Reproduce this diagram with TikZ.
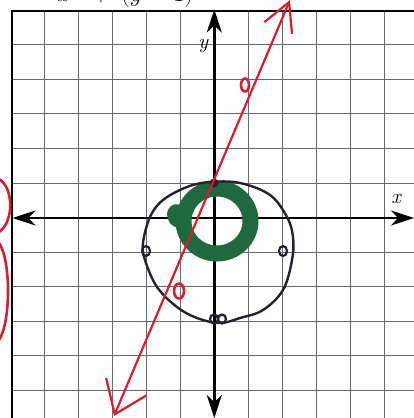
\documentclass[tikz,border=0pt]{standalone}
\usetikzlibrary{arrows.meta}
\definecolor{gridc}{HTML}{6A6A6E}
\definecolor{penred}{HTML}{D81E2C}
\definecolor{pengreen}{HTML}{1E6A3E}
\definecolor{penblack}{HTML}{23222E}
\tikzset{
  gridline/.style={gridc, line width=0.9pt},
  border/.style={black, line width=1.4pt},
  axis/.style={black, line width=2.6pt, -{Stealth[length=23pt,width=15pt,inset=7pt]}},
  redpen/.style={penred, line width=2.2pt, line cap=round, line join=round},
  blackpen/.style={penblack, line width=2.4pt, line cap=round, line join=round},
  greenpen/.style={pengreen, line width=16pt},
  axlabel/.style={font=\itshape\fontsize{21}{21}\selectfont, inner sep=0pt}
}
\begin{document}
\begin{tikzpicture}[x=1pt,y=-1pt]
\useasboundingbox (0,0) rectangle (414,418);
\clip (0,0) rectangle (414,418);
% cropped equation at top
\node[anchor=base west, inner sep=0pt, font=\fontsize{30}{30}\selectfont] (eq) at (57,1.5) {$x^2 \mkern4mu+\mkern4mu (y-1)^2$};
% grid
\foreach \gx in {44.5,78.2,112.1,146,180,248.2,282.3,316.4,350.6,384.8}
  \draw[gridline] (\gx,11) -- (\gx,418);
\foreach \gy in {44.5,79,113.5,148,183,252.3,286.8,321.3,355.8,390.3}
  \draw[gridline] (12,\gy) -- (414,\gy);
\draw[border] (12,418) -- (12,11) -- (414,11);
% axes
\coordinate (o) at (214.3,218);
\coordinate (xl) at (12.5,218);
\coordinate (xr) at (414,218);
\coordinate (yt) at (214.3,9.5);
\coordinate (yb) at (214.3,418);
\draw[axis] (o) -- (xl);
\draw[axis] (o) -- (xr);
\draw[axis] (o) -- (yt);
\draw[axis] (o) -- (yb);
\node[axlabel] (ylab) at (203,46) {y};
\node[axlabel] (xlab) at (396,199) {x};
% green ring
\draw[greenpen] (217,221) ellipse (33.5 and 32.5);
\fill[pengreen] (167,214) .. controls (169,199) and (186,203) .. (187,214) .. controls (187,230) and (169,233) .. (167,214);
% black circle
\draw[blackpen] plot[smooth cycle, tension=0.6] coordinates {
 (210,182) (240,183) (270,195) (287,217) (293,237) (292,260) (283,290)
 (263,310) (240,318) (220,323) (197,318) (177,307) (157,287) (145,260)
 (143,243) (150,217) (163,200) (187,187)};
% black point marks
\draw[penblack, line width=2.2pt] (146,251) ellipse (4 and 5);
\draw[penblack, line width=2.2pt] (283,251) ellipse (4 and 5);
\draw[penblack, line width=2.2pt] (214,319) ellipse (4 and 4.5);
\draw[penblack, line width=2.2pt] (222,319) ellipse (4 and 4.5);
\fill[penblack] (214,183) circle (4.5);
% red line
\coordinate (rb) at (114,416);
\coordinate (rt) at (290,0);
\draw[redpen, {Straight Barb[length=30pt,width=44pt]}-{Straight Barb[length=28pt,width=30pt]}] (rb) -- (rt);
% red marks on line
\draw[redpen, line width=2.6pt] (245,85) ellipse (4 and 6.5);
\draw[redpen, line width=2.6pt] (179,291) ellipse (5 and 7.5);
% red parentheses on left edge
\draw[redpen, line width=2.6pt] (-1,179) .. controls (14,188) and (14,222) .. (-1,232);
\draw[redpen, line width=2.6pt] (-1,243) .. controls (11,260) and (11,322) .. (-1,340);
\end{tikzpicture}
\end{document}
